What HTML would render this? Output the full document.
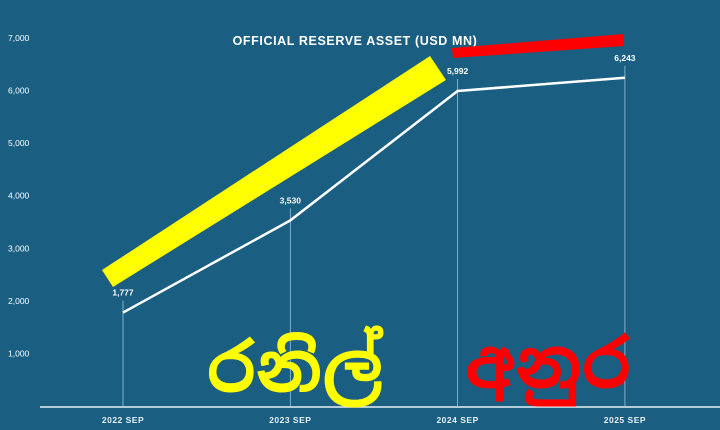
<!DOCTYPE html>
<html><head><meta charset="utf-8"><style>
body{margin:0;background:#1a5e82;}
svg{display:block;font-family:"Liberation Sans",sans-serif;}
</style></head><body>
<svg width="720" height="430" viewBox="0 0 720 430">
<rect width="720" height="430" fill="#1a5e82"/>
<text x="355" y="45" fill="#fff" font-size="12.5" font-weight="bold" text-anchor="middle" letter-spacing="0.6">OFFICIAL RESERVE ASSET  (USD MN)</text>
<g id="axes"></g>
<g id="marks"></g>
<polygon points="102,270 430,56 446,80 113,287" fill="#ffff00"/>
<polygon points="452,48 624,34 624,46 453,58" fill="#ff0000"/>
<text x="295" y="392" fill="#ffff00" font-size="68" font-weight="bold" text-anchor="middle" font-family="'Liberation Sans','Noto Sans Sinhala',sans-serif">රනිල්</text>
<text x="548" y="388" fill="#ff0000" font-size="68" font-weight="bold" text-anchor="middle" font-family="'Liberation Sans','Noto Sans Sinhala',sans-serif">අනුර</text>
</svg>
<script>
const categories=["2022 SEP","2023 SEP","2024 SEP","2025 SEP"];
const values=[1777,3530,5992,6243];
const valueLabels=["1,777","3,530","5,992","6,243"];
const yTicks=[1000,2000,3000,4000,5000,6000,7000];
const yTickLabels=["1,000","2,000","3,000","4,000","5,000","6,000","7,000"];
const NS="http://www.w3.org/2000/svg";
const y=v=>406-v*(368/7000);
const x=i=>123+i*167.3;
function mk(t,a,p){const e=document.createElementNS(NS,t);for(const k in a)e.setAttribute(k,a[k]);p.appendChild(e);return e;}
const ax=document.getElementById('axes'),mg=document.getElementById('marks');
const base=mk('line',{x1:40,x2:720,y1:407,y2:407,stroke:'#e8f0f5','stroke-width':1.5},ax);


yTicks.forEach((t,i)=>{const e=mk('text',{x:8,y:y(t)+3,fill:'#fff','font-size':8.5},ax);e.textContent=yTickLabels[i];

});
categories.forEach((c,i)=>{const e=mk('text',{x:x(i),y:423,fill:'#e8f0f5','font-size':8.5,'font-weight':'bold','text-anchor':'middle','letter-spacing':0.5},ax);e.textContent=c;


const d=mk('line',{x1:x(i),x2:x(i),y1:y(values[i])-12,y2:406,stroke:'#9cc3d9','stroke-width':0.8},mg);


const l=mk('text',{x:x(i),y:y(values[i])-17,fill:'#fff','font-size':8.5,'font-weight':'bold','text-anchor':'middle'},mg);l.textContent=valueLabels[i];

});
const pl=mk('polyline',{points:values.map((v,i)=>x(i)+','+y(v)).join(' '),fill:'none',stroke:'#fff','stroke-width':2.5},mg);


</script>
</body></html>
